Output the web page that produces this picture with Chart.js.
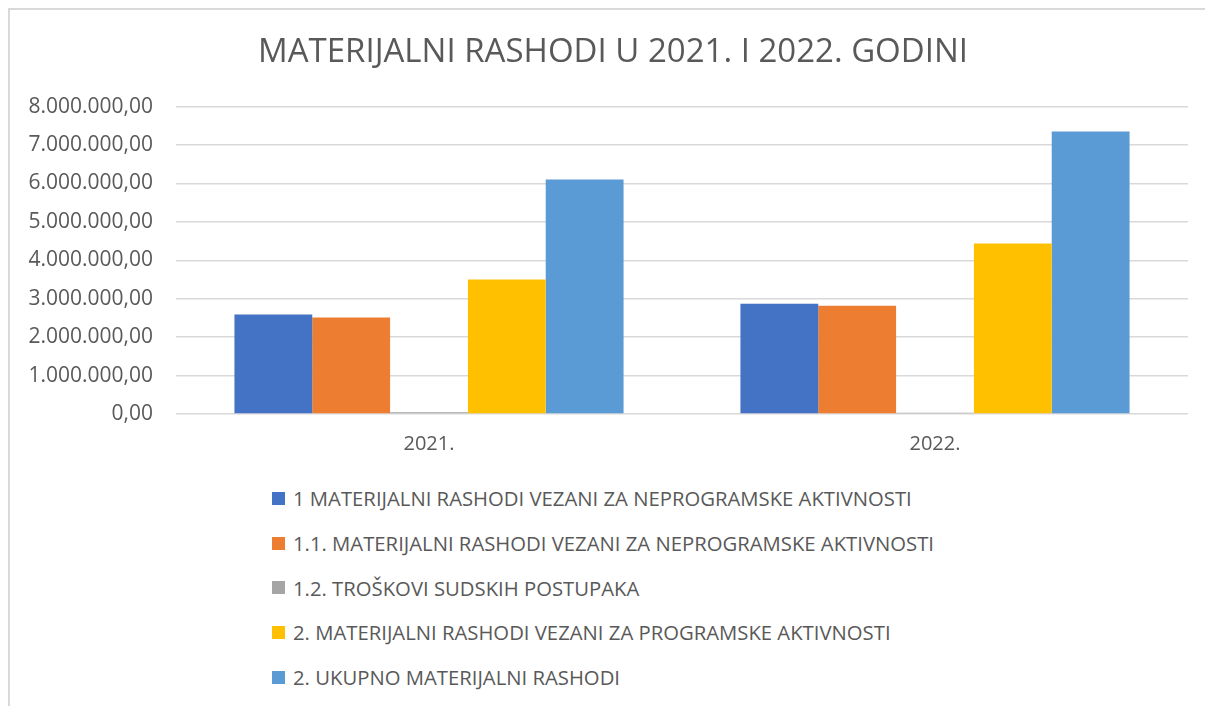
<!DOCTYPE html>
<html>
<head>
<meta charset="utf-8">
<script src="https://cdn.jsdelivr.net/npm/chart.js@4/dist/chart.umd.min.js"></script>
<style>
  html, body { margin: 0; padding: 0; background: #fff; overflow: hidden; }
  body { width: 1205px; height: 706px; position: relative; font-family: "Open Sans", sans-serif; }
  #frame { position: absolute; left: 8px; top: 8px; width: 1230px; height: 720px;
           border-top: 2px solid #d9d9d9; border-left: 2px solid #d9d9d9; box-sizing: border-box; }
  #wrap { position: absolute; left: 9px; top: 9px; width: 1208px; height: 465px; }
  #legend { position: absolute; left: 272px; top: 476px; margin: 0; padding: 0; list-style: none; }
  #legend li { height: 44.7px; display: flex; align-items: center; color: #595959;
               font-size: 20.3px; white-space: nowrap; }
  #legend .box { width: 13px; height: 13px; margin-right: 8px; flex: none; }
</style>
</head>
<body>
<div id="frame"></div>
<div id="wrap"><canvas id="c"></canvas></div>
<ul id="legend"></ul>
<script>
const categories = ["2021.", "2022."];
const seriesNames = [
  "1 MATERIJALNI RASHODI VEZANI ZA NEPROGRAMSKE AKTIVNOSTI",
  "1.1. MATERIJALNI RASHODI VEZANI ZA NEPROGRAMSKE AKTIVNOSTI",
  "1.2. TROŠKOVI SUDSKIH POSTUPAKA",
  "2. MATERIJALNI RASHODI VEZANI ZA PROGRAMSKE AKTIVNOSTI",
  "2. UKUPNO MATERIJALNI RASHODI"
];
const neprogramske = [2590000, 2870000];
const neprogramske11 = [2510000, 2820000];
const sudskiPostupci = [45000, 35000];
const programske = [3500000, 4440000];
const ukupno = [6100000, 7350000];
const seriesColors = ["#4472C4", "#ED7D31", "#A5A5A5", "#FFC000", "#5B9BD5"];
const titleText = "MATERIJALNI RASHODI U 2021. I 2022. GODINI";

const seriesValues = [neprogramske, neprogramske11, sudskiPostupci, programske, ukupno];

function fmt(v) {
  const s = Math.round(v).toString().replace(/\B(?=(\d{3})+(?!\d))/g, ".");
  return s + ",00";
}

const chart = new Chart(document.getElementById("c"), {
  type: "bar",
  data: {
    labels: categories,
    datasets: seriesNames.map((n, i) => ({
      label: n,
      data: seriesValues[i],
      backgroundColor: seriesColors[i],
      borderWidth: 0,
      categoryPercentage: 0.769,
      barPercentage: 1.0
    }))
  },
  options: {
    responsive: true,
    maintainAspectRatio: false,
    animation: false,
    layout: { padding: { left: 0, right: 0, top: 0, bottom: 0 } },
    plugins: {
      legend: { display: false },
      tooltip: { enabled: false },
      title: {
        display: true,
        text: titleText,
        color: "#595959",
        font: { family: "Open Sans", size: 33, weight: "normal" },
        padding: { top: 24, bottom: 34 }
      }
    },
    scales: {
      x: {
        grid: { display: false, drawTicks: false },
        border: { display: false },
        ticks: { color: "#595959", font: { family: "Open Sans", size: 20 }, padding: 18 }
      },
      y: {
        min: 0, max: 8000000,
        ticks: { stepSize: 1000000, color: "#595959", font: { family: "Open Sans", size: 21 },
                 padding: 23, callback: (v) => fmt(v) },
        grid: { color: "#d9d9d9", lineWidth: 1.5, drawTicks: false },
        border: { display: false },
        afterFit: (s) => { s.width = 167; }
      },
      yRight: {
        type: "linear",
        position: "right",
        display: true,
        min: 0, max: 8000000,
        grid: { display: false, drawTicks: false },
        border: { display: false },
        ticks: { display: false },
        afterFit: (s) => { s.width = 29; }
      }
    }
  }
});

const legend = document.getElementById("legend");
chart.data.datasets.forEach(ds => {
  const li = document.createElement("li");
  const b = document.createElement("span");
  b.className = "box";
  b.style.background = ds.backgroundColor;
  const t = document.createElement("span");
  t.textContent = ds.label;
  li.appendChild(b); li.appendChild(t);
  legend.appendChild(li);
});
</script>
</body>
</html>
